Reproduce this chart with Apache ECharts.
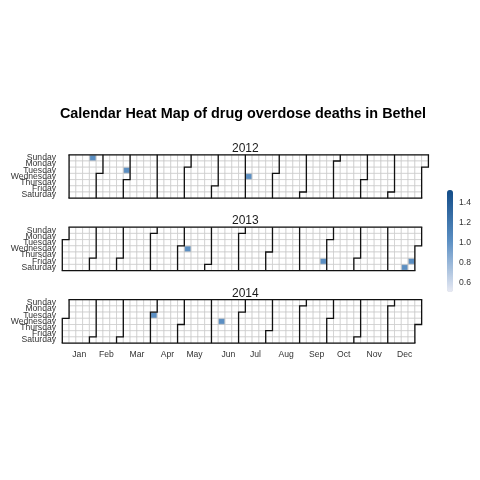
<!DOCTYPE html>
<html><head><meta charset="utf-8">
<script src="https://cdn.jsdelivr.net/npm/echarts@6/dist/echarts.min.js"></script>
<style>html,body{margin:0;padding:0;background:#fff}#c{width:480px;height:480px}</style>
</head><body><div id="c"></div>
<script>
// ---- data ----
const years = ['2012', '2013', '2014'];
const deathDates = ['2012-01-22', '2012-02-28', '2012-07-04',
                    '2013-05-08', '2013-09-27', '2013-12-21', '2013-12-27',
                    '2014-04-01', '2014-06-11'];
const deathCounts = [1, 1, 1, 1, 1, 1, 1, 1, 1];
const dayNames = ['Sunday', 'Monday', 'Tuesday', 'Wednesday', 'Thursday', 'Friday', 'Saturday'];
const monthNames = ['Jan', 'Feb', 'Mar', 'Apr', 'May', 'Jun', 'Jul', 'Aug', 'Sep', 'Oct', 'Nov', 'Dec'];
const legendTicks = [0.6, 0.8, 1.0, 1.2, 1.4];
const colorMin = 0.5, colorMax = 1.5;
const titleText = 'Calendar Heat Map of drug overdose deaths in Bethel';

// ---- layout ----
const X0 = 62.3, CW = 6.78, CH = 6.2;
const tops = [154.8, 227.2, 299.7];
const LABEL_RIGHT = 56;
const FONT = 'Liberation Sans, Arial, sans-serif';
const TXT = '#333333';
// %U-style week numbering: a year starting on Sunday begins at week 1
const offs = years.map(y => (new Date(Number(y), 0, 1).getDay() === 0 ? 1 : 0));

const calendars = years.map((y, i) => {
  const left = X0 + offs[i] * CW;
  return {
    range: y,
    orient: 'horizontal',
    left: left,
    top: tops[i],
    cellSize: [CW, CH],
    splitLine: { show: true, lineStyle: { color: '#111111', width: 1.3, type: 'solid' } },
    itemStyle: { color: '#ffffff', borderColor: '#c4c4c4', borderWidth: 0.6 },
    yearLabel: { show: false },
    dayLabel: {
      show: true, firstDay: 0, position: 'start', nameMap: dayNames,
      margin: left - LABEL_RIGHT, fontSize: 8.6, color: TXT, fontFamily: FONT
    },
    monthLabel: {
      show: i === years.length - 1, position: 'end', nameMap: monthNames, align: 'center',
      margin: 7, fontSize: 8.6, color: TXT, fontFamily: FONT
    }
  };
});

const series = years.map((y, i) => ({
  type: 'heatmap',
  coordinateSystem: 'calendar',
  calendarIndex: i,
  data: deathDates.map((d, k) => [d, deathCounts[k]]).filter(p => p[0].slice(0, 4) === y),
  itemStyle: { borderColor: '#c4c4c4', borderWidth: 0.6 }
}));

const graphics = [{
  type: 'text', x: 243, y: 114,
  style: { text: titleText, font: 'bold 14.4px ' + FONT, fill: '#000',
           textAlign: 'center', textVerticalAlign: 'middle', align: 'center', verticalAlign: 'middle' }
}].concat(years.map((y, i) => ({
  type: 'text', x: X0 + 27 * CW, y: tops[i] - 6.5,
  style: { text: y, font: '12px ' + FONT, fill: '#1a1a1a',
           textAlign: 'center', textVerticalAlign: 'middle', align: 'center', verticalAlign: 'middle' }
})));

const chart = echarts.init(document.getElementById('c'), null, { renderer: 'canvas' });
chart.setOption({
  animation: false,
  backgroundColor: '#ffffff',
  calendar: calendars,
  visualMap: {
    type: 'continuous', min: colorMin, max: colorMax, seriesIndex: [0, 1, 2],
    calculable: false, orient: 'vertical', left: 447, top: 190,
    itemWidth: 6, itemHeight: 102, padding: 0,
    inRange: { color: ['#e8eaf4', '#5b8fc3', '#124c88'] }
  },
  grid: { left: 447, top: 193, width: 6, height: 100 },
  xAxis: { type: 'value', show: false },
  yAxis: {
    type: 'value', min: colorMin, max: colorMax, interval: 0.1, position: 'right',
    axisLine: { show: false }, axisTick: { show: false }, splitLine: { show: false },
    axisLabel: {
      margin: 6, fontSize: 8.6, color: TXT, fontFamily: FONT,
      formatter: v => legendTicks.some(t => Math.abs(t - v) < 1e-6) ? v.toFixed(1) : ''
    }
  },
  graphic: graphics,
  series: series
});
</script>
</body></html>
